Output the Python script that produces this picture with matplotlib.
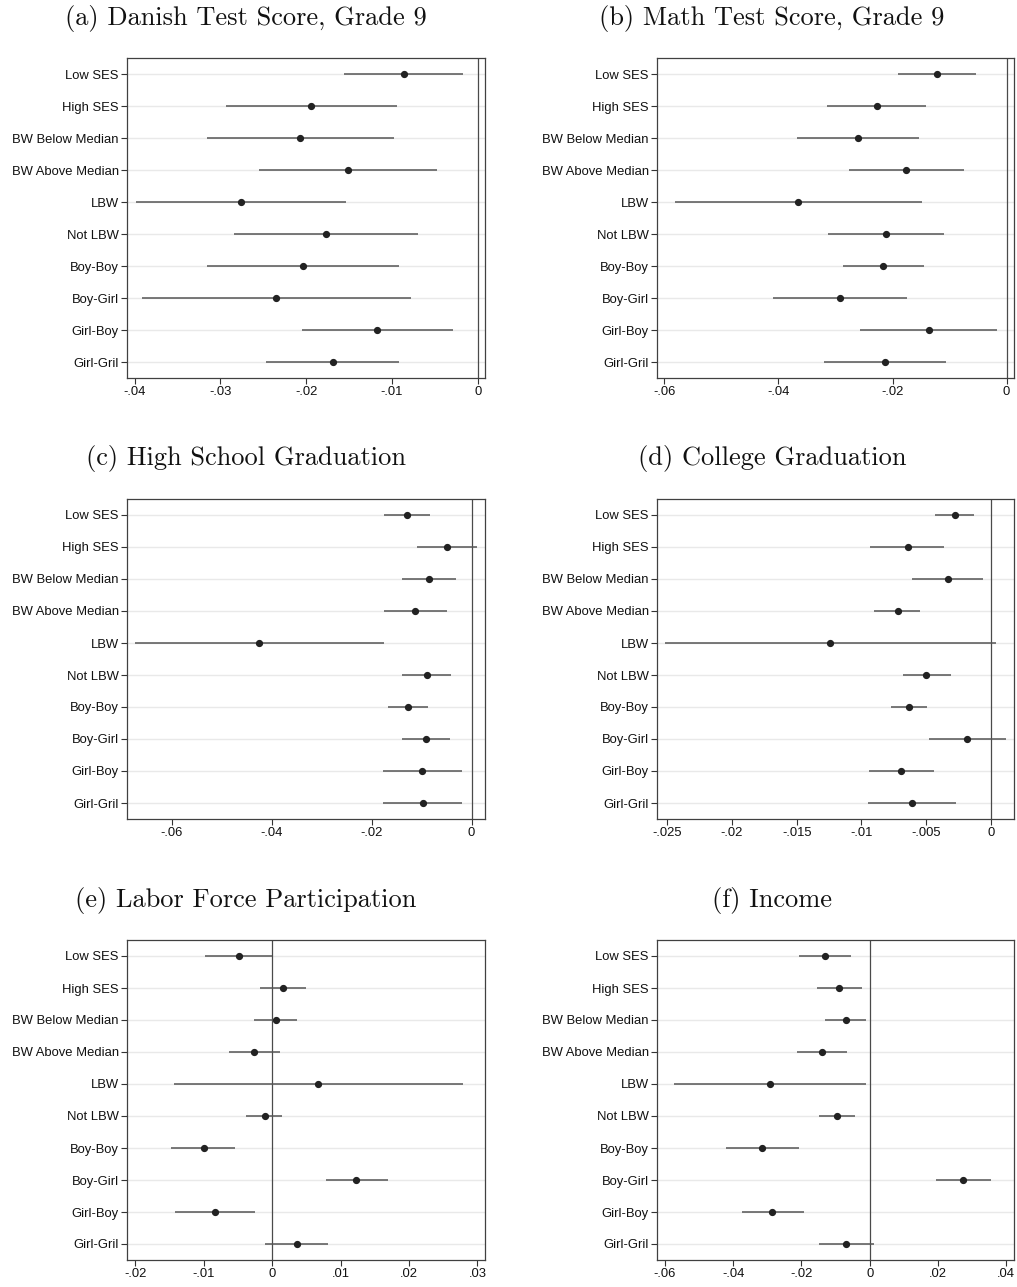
import numpy as np
import matplotlib
matplotlib.use("Agg")
import matplotlib.pyplot as plt
from matplotlib.ticker import FuncFormatter

plt.rcParams['font.family'] = ['Liberation Sans', 'DejaVu Sans']

groups = ['Low SES', 'High SES', 'BW Below Median', 'BW Above Median', 'LBW',
          'Not LBW', 'Boy-Boy', 'Boy-Girl', 'Girl-Boy', 'Girl-Gril']

# point estimates and 95% CI bounds, one set per outcome
danish_est = [-0.0086, -0.0194, -0.0207, -0.0151, -0.0276, -0.0177, -0.0204, -0.0235, -0.0117, -0.0169]
danish_lo = [-0.0156, -0.0293, -0.0316, -0.0255, -0.0398, -0.0284, -0.0316, -0.0391, -0.0205, -0.0247]
danish_hi = [-0.0017, -0.0094, -0.0098, -0.0047, -0.0154, -0.0069, -0.0092, -0.0078, -0.0029, -0.0092]

math_est = [-0.0122, -0.0228, -0.0260, -0.0176, -0.0365, -0.0212, -0.0216, -0.0292, -0.0136, -0.0214]
math_lo = [-0.0191, -0.0315, -0.0367, -0.0277, -0.0581, -0.0314, -0.0287, -0.0409, -0.0257, -0.0321]
math_hi = [-0.0053, -0.0141, -0.0153, -0.0074, -0.0148, -0.0110, -0.0144, -0.0175, -0.0016, -0.0107]

hs_est = [-0.0130, -0.0049, -0.0086, -0.0113, -0.0425, -0.0090, -0.0127, -0.0091, -0.0099, -0.0098]
hs_lo = [-0.0175, -0.0109, -0.0140, -0.0175, -0.0674, -0.0139, -0.0167, -0.0139, -0.0177, -0.0177]
hs_hi = [-0.0084, 0.0011, -0.0032, -0.0050, -0.0175, -0.0042, -0.0087, -0.0043, -0.0020, -0.0019]

college_est = [-0.0028, -0.0064, -0.0033, -0.0072, -0.0124, -0.0050, -0.0063, -0.0018, -0.0069, -0.0061]
college_lo = [-0.0043, -0.0093, -0.0061, -0.0090, -0.0252, -0.0068, -0.0077, -0.0048, -0.0094, -0.0095]
college_hi = [-0.0013, -0.0036, -0.0006, -0.0055, 0.0004, -0.0031, -0.0049, 0.0012, -0.0044, -0.0027]

lfp_est = [-0.0049, 0.0016, 0.0005, -0.0026, 0.0067, -0.0011, -0.0100, 0.0123, -0.0083, 0.0036]
lfp_lo = [-0.0098, -0.0018, -0.0026, -0.0063, -0.0144, -0.0038, -0.0147, 0.0078, -0.0142, -0.0010]
lfp_hi = [0.0000, 0.0049, 0.0036, 0.0012, 0.0279, 0.0015, -0.0054, 0.0169, -0.0025, 0.0082]

income_est = [-0.0132, -0.0089, -0.0070, -0.0141, -0.0291, -0.0096, -0.0315, 0.0275, -0.0285, -0.0068]
income_lo = [-0.0207, -0.0154, -0.0130, -0.0214, -0.0572, -0.0148, -0.0421, 0.0194, -0.0375, -0.0149]
income_hi = [-0.0056, -0.0023, -0.0011, -0.0067, -0.0010, -0.0043, -0.0208, 0.0357, -0.0193, 0.0014]

panels = [
    ('(a) Danish Test Score, Grade 9', danish_est, danish_lo, danish_hi,
     (-0.0409, 0.00086), [-0.04, -0.03, -0.02, -0.01, 0]),
    ('(b) Math Test Score, Grade 9', math_est, math_lo, math_hi,
     (-0.0613, 0.0013), [-0.06, -0.04, -0.02, 0]),
    ('(c) High School Graduation', hs_est, hs_lo, hs_hi,
     (-0.0690, 0.0027), [-0.06, -0.04, -0.02, 0]),
    ('(d) College Graduation', college_est, college_lo, college_hi,
     (-0.0258, 0.0018), [-0.025, -0.02, -0.015, -0.01, -0.005, 0]),
    ('(e) Labor Force Participation', lfp_est, lfp_lo, lfp_hi,
     (-0.0212, 0.0311), [-0.02, -0.01, 0, 0.01, 0.02, 0.03]),
    ('(f) Income', income_est, income_lo, income_hi,
     (-0.0623, 0.0423), [-0.06, -0.04, -0.02, 0, 0.02, 0.04]),
]


def stata_fmt(v, pos):
    if abs(v) < 1e-12:
        return '0'
    s = f'{v:g}'
    return s.replace('0.', '.')


W, H = 1017, 1287
fig = plt.figure(figsize=(W / 100, H / 100), dpi=100)

col_left = [127, 657]
col_width = [358, 357]
row_top = [58, 499, 940]
ax_h = 320
title_x = [246, 772]
title_y = [18, 459, 900]

y = np.arange(len(groups))
for i, (title, est, lo, hi, xlim, ticks) in enumerate(panels):
    r, c = divmod(i, 2)
    ax = fig.add_axes([col_left[c] / W, 1 - (row_top[r] + ax_h) / H,
                       col_width[c] / W, ax_h / H])
    for yy in y:
        ax.axhline(yy, color='#e9e9e9', lw=1.0, zorder=0)
    ax.axvline(0, color='#4a4a4a', lw=0.9, zorder=1)
    ax.hlines(y, lo, hi, color='#555555', lw=1.1, zorder=2)
    ax.plot(est, y, 'o', color='#222222', ms=4.2, zorder=3)

    ax.set_xlim(*xlim)
    ax.set_ylim(len(groups) - 0.5, -0.5)
    ax.set_yticks(y)
    ax.set_yticklabels(groups)
    ax.set_xticks(ticks)
    ax.xaxis.set_major_formatter(FuncFormatter(stata_fmt))
    ax.tick_params(axis='both', labelsize=9.4, colors='#333333', labelcolor='#111111',
                   length=4, width=0.8, pad=2)
    for sp in ax.spines.values():
        sp.set_color('#404040')
        sp.set_linewidth(0.9)

    fig.text(title_x[c] / W, 1 - title_y[r] / H, title, ha='center', va='center',
             fontsize=19, family='cmr10', color='#111111')

fig.savefig('out.png', dpi=100)
